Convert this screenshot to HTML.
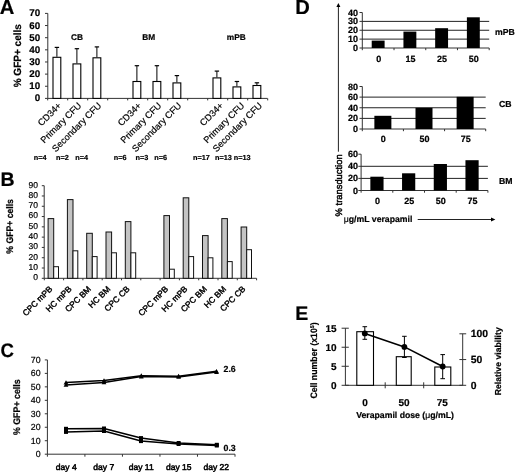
<!DOCTYPE html>
<html><head><meta charset="utf-8"><style>
html,body{margin:0;padding:0;background:#fff;}
svg{display:block;filter:blur(0.4px);}
text{font-family:"Liberation Sans", sans-serif;fill:#000;stroke:#000;stroke-width:0.2px;text-rendering:geometricPrecision;}
</style></head><body>
<svg width="520" height="474" viewBox="0 0 520 474">
<rect width="520" height="474" fill="#fff"/>
<text transform="translate(-0.20 14.10)" font-size="20.2" font-weight="bold" text-anchor="start">A</text>
<line x1="47.80" y1="13.40" x2="47.80" y2="98.40" stroke="#333" stroke-width="1"/>
<line x1="45.00" y1="98.40" x2="47.80" y2="98.40" stroke="#333" stroke-width="1"/>
<text transform="translate(40.20 101.40)" font-size="9.8" font-weight="bold" text-anchor="end">0</text>
<line x1="45.00" y1="86.26" x2="47.80" y2="86.26" stroke="#333" stroke-width="1"/>
<text transform="translate(40.20 89.26)" font-size="9.8" font-weight="bold" text-anchor="end">10</text>
<line x1="45.00" y1="74.11" x2="47.80" y2="74.11" stroke="#333" stroke-width="1"/>
<text transform="translate(40.20 77.11)" font-size="9.8" font-weight="bold" text-anchor="end">20</text>
<line x1="45.00" y1="61.97" x2="47.80" y2="61.97" stroke="#333" stroke-width="1"/>
<text transform="translate(40.20 64.97)" font-size="9.8" font-weight="bold" text-anchor="end">30</text>
<line x1="45.00" y1="49.83" x2="47.80" y2="49.83" stroke="#333" stroke-width="1"/>
<text transform="translate(40.20 52.83)" font-size="9.8" font-weight="bold" text-anchor="end">40</text>
<line x1="45.00" y1="37.69" x2="47.80" y2="37.69" stroke="#333" stroke-width="1"/>
<text transform="translate(40.20 40.69)" font-size="9.8" font-weight="bold" text-anchor="end">50</text>
<line x1="45.00" y1="25.54" x2="47.80" y2="25.54" stroke="#333" stroke-width="1"/>
<text transform="translate(40.20 28.54)" font-size="9.8" font-weight="bold" text-anchor="end">60</text>
<line x1="45.00" y1="13.40" x2="47.80" y2="13.40" stroke="#333" stroke-width="1"/>
<text transform="translate(40.20 16.40)" font-size="9.8" font-weight="bold" text-anchor="end">70</text>
<text transform="translate(21.20 55.70) rotate(-90) scale(0.955 1)" font-size="10.5" font-weight="bold" text-anchor="middle">% GFP+ cells</text>
<line x1="47.80" y1="98.40" x2="267.50" y2="98.40" stroke="#333" stroke-width="1"/>
<line x1="47.70" y1="98.40" x2="47.70" y2="100.40" stroke="#333" stroke-width="1"/>
<line x1="67.70" y1="98.40" x2="67.70" y2="100.40" stroke="#333" stroke-width="1"/>
<line x1="87.70" y1="98.40" x2="87.70" y2="100.40" stroke="#333" stroke-width="1"/>
<line x1="107.70" y1="98.40" x2="107.70" y2="100.40" stroke="#333" stroke-width="1"/>
<line x1="127.70" y1="98.40" x2="127.70" y2="100.40" stroke="#333" stroke-width="1"/>
<line x1="147.70" y1="98.40" x2="147.70" y2="100.40" stroke="#333" stroke-width="1"/>
<line x1="167.70" y1="98.40" x2="167.70" y2="100.40" stroke="#333" stroke-width="1"/>
<line x1="187.70" y1="98.40" x2="187.70" y2="100.40" stroke="#333" stroke-width="1"/>
<line x1="207.70" y1="98.40" x2="207.70" y2="100.40" stroke="#333" stroke-width="1"/>
<line x1="227.70" y1="98.40" x2="227.70" y2="100.40" stroke="#333" stroke-width="1"/>
<line x1="247.70" y1="98.40" x2="247.70" y2="100.40" stroke="#333" stroke-width="1"/>
<line x1="267.70" y1="98.40" x2="267.70" y2="100.40" stroke="#333" stroke-width="1"/>
<line x1="56.90" y1="47.40" x2="56.90" y2="56.80" stroke="#000" stroke-width="1"/>
<line x1="54.70" y1="47.40" x2="59.10" y2="47.40" stroke="#000" stroke-width="1.2"/>
<rect x="53.00" y="57.30" width="7.80" height="41.10" fill="#fff" stroke="#000" stroke-width="1.1"/>
<line x1="76.90" y1="48.70" x2="76.90" y2="63.40" stroke="#000" stroke-width="1"/>
<line x1="74.70" y1="48.70" x2="79.10" y2="48.70" stroke="#000" stroke-width="1.2"/>
<rect x="73.00" y="63.90" width="7.80" height="34.50" fill="#fff" stroke="#000" stroke-width="1.1"/>
<line x1="96.90" y1="46.90" x2="96.90" y2="57.30" stroke="#000" stroke-width="1"/>
<line x1="94.70" y1="46.90" x2="99.10" y2="46.90" stroke="#000" stroke-width="1.2"/>
<rect x="93.00" y="57.80" width="7.80" height="40.60" fill="#fff" stroke="#000" stroke-width="1.1"/>
<line x1="136.90" y1="65.70" x2="136.90" y2="81.00" stroke="#000" stroke-width="1"/>
<line x1="134.70" y1="65.70" x2="139.10" y2="65.70" stroke="#000" stroke-width="1.2"/>
<rect x="133.00" y="81.50" width="7.80" height="16.90" fill="#fff" stroke="#000" stroke-width="1.1"/>
<line x1="156.90" y1="65.70" x2="156.90" y2="81.00" stroke="#000" stroke-width="1"/>
<line x1="154.70" y1="65.70" x2="159.10" y2="65.70" stroke="#000" stroke-width="1.2"/>
<rect x="153.00" y="81.50" width="7.80" height="16.90" fill="#fff" stroke="#000" stroke-width="1.1"/>
<line x1="176.90" y1="75.60" x2="176.90" y2="82.40" stroke="#000" stroke-width="1"/>
<line x1="174.70" y1="75.60" x2="179.10" y2="75.60" stroke="#000" stroke-width="1.2"/>
<rect x="173.00" y="82.90" width="7.80" height="15.50" fill="#fff" stroke="#000" stroke-width="1.1"/>
<line x1="216.90" y1="71.10" x2="216.90" y2="77.40" stroke="#000" stroke-width="1"/>
<line x1="214.70" y1="71.10" x2="219.10" y2="71.10" stroke="#000" stroke-width="1.2"/>
<rect x="213.00" y="77.90" width="7.80" height="20.50" fill="#fff" stroke="#000" stroke-width="1.1"/>
<line x1="236.90" y1="81.50" x2="236.90" y2="86.40" stroke="#000" stroke-width="1"/>
<line x1="234.70" y1="81.50" x2="239.10" y2="81.50" stroke="#000" stroke-width="1.2"/>
<rect x="233.00" y="86.90" width="7.80" height="11.50" fill="#fff" stroke="#000" stroke-width="1.1"/>
<line x1="256.90" y1="82.80" x2="256.90" y2="85.00" stroke="#000" stroke-width="1"/>
<line x1="254.70" y1="82.80" x2="259.10" y2="82.80" stroke="#000" stroke-width="1.2"/>
<rect x="253.00" y="85.50" width="7.80" height="12.90" fill="#fff" stroke="#000" stroke-width="1.1"/>
<text transform="translate(77.00 39.70)" font-size="8.3" font-weight="bold" text-anchor="middle">CB</text>
<text transform="translate(148.60 39.70)" font-size="8.3" font-weight="bold" text-anchor="middle">BM</text>
<text transform="translate(236.30 40.00)" font-size="8.3" font-weight="bold" text-anchor="middle">mPB</text>
<text transform="translate(61.90 106.20) rotate(-45)" font-size="9.2" font-weight="normal" text-anchor="end">CD34+</text>
<text transform="translate(81.90 106.20) rotate(-45)" font-size="9.2" font-weight="normal" text-anchor="end">Primary CFU</text>
<text transform="translate(101.90 106.20) rotate(-45)" font-size="9.2" font-weight="normal" text-anchor="end">Secondary CFU</text>
<text transform="translate(141.90 106.20) rotate(-45)" font-size="9.2" font-weight="normal" text-anchor="end">CD34+</text>
<text transform="translate(161.90 106.20) rotate(-45)" font-size="9.2" font-weight="normal" text-anchor="end">Primary CFU</text>
<text transform="translate(181.90 106.20) rotate(-45)" font-size="9.2" font-weight="normal" text-anchor="end">Secondary CFU</text>
<text transform="translate(223.90 106.20) rotate(-45)" font-size="9.2" font-weight="normal" text-anchor="end">CD34+</text>
<text transform="translate(244.90 106.20) rotate(-45)" font-size="9.2" font-weight="normal" text-anchor="end">Primary CFU</text>
<text transform="translate(262.60 106.20) rotate(-45)" font-size="9.2" font-weight="normal" text-anchor="end">Secondary CFU</text>
<text transform="translate(33.80 159.70)" font-size="7.3" font-weight="bold" text-anchor="start">n=4</text>
<text transform="translate(56.00 159.70)" font-size="7.3" font-weight="bold" text-anchor="start">n=2</text>
<text transform="translate(75.20 159.70)" font-size="7.3" font-weight="bold" text-anchor="start">n=4</text>
<text transform="translate(113.70 159.70)" font-size="7.3" font-weight="bold" text-anchor="start">n=6</text>
<text transform="translate(135.60 159.70)" font-size="7.3" font-weight="bold" text-anchor="start">n=3</text>
<text transform="translate(154.20 159.70)" font-size="7.3" font-weight="bold" text-anchor="start">n=6</text>
<text transform="translate(193.00 159.70)" font-size="7.3" font-weight="bold" text-anchor="start">n=17</text>
<text transform="translate(215.00 159.70)" font-size="7.3" font-weight="bold" text-anchor="start">n=13</text>
<text transform="translate(233.80 159.70)" font-size="7.3" font-weight="bold" text-anchor="start">n=13</text>
<text transform="translate(0.50 185.60)" font-size="19.5" font-weight="bold" text-anchor="start">B</text>
<line x1="44.20" y1="185.69" x2="44.20" y2="278.30" stroke="#333" stroke-width="1"/>
<line x1="41.80" y1="278.30" x2="44.20" y2="278.30" stroke="#333" stroke-width="1"/>
<text transform="translate(38.00 280.20)" font-size="8.5" font-weight="normal" text-anchor="end">0</text>
<line x1="41.80" y1="268.01" x2="44.20" y2="268.01" stroke="#333" stroke-width="1"/>
<text transform="translate(38.00 269.91)" font-size="8.5" font-weight="normal" text-anchor="end">10</text>
<line x1="41.80" y1="257.72" x2="44.20" y2="257.72" stroke="#333" stroke-width="1"/>
<text transform="translate(38.00 259.62)" font-size="8.5" font-weight="normal" text-anchor="end">20</text>
<line x1="41.80" y1="247.43" x2="44.20" y2="247.43" stroke="#333" stroke-width="1"/>
<text transform="translate(38.00 249.33)" font-size="8.5" font-weight="normal" text-anchor="end">30</text>
<line x1="41.80" y1="237.14" x2="44.20" y2="237.14" stroke="#333" stroke-width="1"/>
<text transform="translate(38.00 239.04)" font-size="8.5" font-weight="normal" text-anchor="end">40</text>
<line x1="41.80" y1="226.85" x2="44.20" y2="226.85" stroke="#333" stroke-width="1"/>
<text transform="translate(38.00 228.75)" font-size="8.5" font-weight="normal" text-anchor="end">50</text>
<line x1="41.80" y1="216.56" x2="44.20" y2="216.56" stroke="#333" stroke-width="1"/>
<text transform="translate(38.00 218.46)" font-size="8.5" font-weight="normal" text-anchor="end">60</text>
<line x1="41.80" y1="206.27" x2="44.20" y2="206.27" stroke="#333" stroke-width="1"/>
<text transform="translate(38.00 208.17)" font-size="8.5" font-weight="normal" text-anchor="end">70</text>
<line x1="41.80" y1="195.98" x2="44.20" y2="195.98" stroke="#333" stroke-width="1"/>
<text transform="translate(38.00 197.88)" font-size="8.5" font-weight="normal" text-anchor="end">80</text>
<line x1="41.80" y1="185.69" x2="44.20" y2="185.69" stroke="#333" stroke-width="1"/>
<text transform="translate(38.00 187.59)" font-size="8.5" font-weight="normal" text-anchor="end">90</text>
<text transform="translate(13.40 226.40) rotate(-90) scale(0.9 1)" font-size="9.6" font-weight="bold" text-anchor="middle">% GFP+ cells</text>
<line x1="44.20" y1="278.30" x2="256.50" y2="278.30" stroke="#333" stroke-width="1"/>
<line x1="44.30" y1="278.30" x2="44.30" y2="280.30" stroke="#333" stroke-width="1"/>
<line x1="63.60" y1="278.30" x2="63.60" y2="280.30" stroke="#333" stroke-width="1"/>
<line x1="82.90" y1="278.30" x2="82.90" y2="280.30" stroke="#333" stroke-width="1"/>
<line x1="102.20" y1="278.30" x2="102.20" y2="280.30" stroke="#333" stroke-width="1"/>
<line x1="121.50" y1="278.30" x2="121.50" y2="280.30" stroke="#333" stroke-width="1"/>
<line x1="140.80" y1="278.30" x2="140.80" y2="280.30" stroke="#333" stroke-width="1"/>
<line x1="160.10" y1="278.30" x2="160.10" y2="280.30" stroke="#333" stroke-width="1"/>
<line x1="179.40" y1="278.30" x2="179.40" y2="280.30" stroke="#333" stroke-width="1"/>
<line x1="198.70" y1="278.30" x2="198.70" y2="280.30" stroke="#333" stroke-width="1"/>
<line x1="218.00" y1="278.30" x2="218.00" y2="280.30" stroke="#333" stroke-width="1"/>
<line x1="237.30" y1="278.30" x2="237.30" y2="280.30" stroke="#333" stroke-width="1"/>
<line x1="256.60" y1="278.30" x2="256.60" y2="280.30" stroke="#333" stroke-width="1"/>
<rect x="48.10" y="218.60" width="5.60" height="59.70" fill="#c4c4c4" stroke="#111" stroke-width="1"/>
<rect x="53.70" y="266.70" width="4.80" height="11.60" fill="#fff" stroke="#111" stroke-width="1"/>
<text transform="translate(52.95 289.50) rotate(-45)" font-size="8.4" font-weight="normal" text-anchor="end" style="stroke-width:0.4px">CPC mPB</text>
<rect x="67.40" y="199.60" width="5.60" height="78.70" fill="#c4c4c4" stroke="#111" stroke-width="1"/>
<rect x="73.00" y="250.80" width="4.80" height="27.50" fill="#fff" stroke="#111" stroke-width="1"/>
<text transform="translate(72.25 289.50) rotate(-45)" font-size="8.4" font-weight="normal" text-anchor="end" style="stroke-width:0.4px">HC mPB</text>
<rect x="86.70" y="233.30" width="5.60" height="45.00" fill="#c4c4c4" stroke="#111" stroke-width="1"/>
<rect x="92.30" y="256.60" width="4.80" height="21.70" fill="#fff" stroke="#111" stroke-width="1"/>
<text transform="translate(91.55 289.50) rotate(-45)" font-size="8.4" font-weight="normal" text-anchor="end" style="stroke-width:0.4px">CPC BM</text>
<rect x="106.00" y="232.00" width="5.60" height="46.30" fill="#c4c4c4" stroke="#111" stroke-width="1"/>
<rect x="111.60" y="252.80" width="4.80" height="25.50" fill="#fff" stroke="#111" stroke-width="1"/>
<text transform="translate(110.85 289.50) rotate(-45)" font-size="8.4" font-weight="normal" text-anchor="end" style="stroke-width:0.4px">HC BM</text>
<rect x="125.30" y="221.60" width="5.60" height="56.70" fill="#c4c4c4" stroke="#111" stroke-width="1"/>
<rect x="130.90" y="252.80" width="4.80" height="25.50" fill="#fff" stroke="#111" stroke-width="1"/>
<text transform="translate(130.15 289.50) rotate(-45)" font-size="8.4" font-weight="normal" text-anchor="end" style="stroke-width:0.4px">CPC CB</text>
<rect x="163.90" y="215.60" width="5.60" height="62.70" fill="#c4c4c4" stroke="#111" stroke-width="1"/>
<rect x="169.50" y="269.20" width="4.80" height="9.10" fill="#fff" stroke="#111" stroke-width="1"/>
<text transform="translate(168.75 289.50) rotate(-45)" font-size="8.4" font-weight="normal" text-anchor="end" style="stroke-width:0.4px">CPC mPB</text>
<rect x="183.20" y="197.80" width="5.60" height="80.50" fill="#c4c4c4" stroke="#111" stroke-width="1"/>
<rect x="188.80" y="256.60" width="4.80" height="21.70" fill="#fff" stroke="#111" stroke-width="1"/>
<text transform="translate(188.05 289.50) rotate(-45)" font-size="8.4" font-weight="normal" text-anchor="end" style="stroke-width:0.4px">HC mPB</text>
<rect x="202.50" y="235.60" width="5.60" height="42.70" fill="#c4c4c4" stroke="#111" stroke-width="1"/>
<rect x="208.10" y="257.80" width="4.80" height="20.50" fill="#fff" stroke="#111" stroke-width="1"/>
<text transform="translate(207.35 289.50) rotate(-45)" font-size="8.4" font-weight="normal" text-anchor="end" style="stroke-width:0.4px">CPC BM</text>
<rect x="221.80" y="218.60" width="5.60" height="59.70" fill="#c4c4c4" stroke="#111" stroke-width="1"/>
<rect x="227.40" y="261.60" width="4.80" height="16.70" fill="#fff" stroke="#111" stroke-width="1"/>
<text transform="translate(226.65 289.50) rotate(-45)" font-size="8.4" font-weight="normal" text-anchor="end" style="stroke-width:0.4px">HC BM</text>
<rect x="241.10" y="227.00" width="5.60" height="51.30" fill="#c4c4c4" stroke="#111" stroke-width="1"/>
<rect x="246.70" y="249.70" width="4.80" height="28.60" fill="#fff" stroke="#111" stroke-width="1"/>
<text transform="translate(245.95 289.50) rotate(-45)" font-size="8.4" font-weight="normal" text-anchor="end" style="stroke-width:0.4px">CPC CB</text>
<text transform="translate(0.60 356.60) scale(0.95 1)" font-size="19.5" font-weight="bold" text-anchor="start">C</text>
<line x1="47.40" y1="359.91" x2="47.40" y2="454.20" stroke="#333" stroke-width="1"/>
<line x1="44.80" y1="454.20" x2="47.40" y2="454.20" stroke="#333" stroke-width="1"/>
<text transform="translate(40.60 457.30)" font-size="8.8" font-weight="normal" text-anchor="end">0</text>
<line x1="44.80" y1="440.73" x2="47.40" y2="440.73" stroke="#333" stroke-width="1"/>
<text transform="translate(40.60 443.83)" font-size="8.8" font-weight="normal" text-anchor="end">10</text>
<line x1="44.80" y1="427.26" x2="47.40" y2="427.26" stroke="#333" stroke-width="1"/>
<text transform="translate(40.60 430.36)" font-size="8.8" font-weight="normal" text-anchor="end">20</text>
<line x1="44.80" y1="413.79" x2="47.40" y2="413.79" stroke="#333" stroke-width="1"/>
<text transform="translate(40.60 416.89)" font-size="8.8" font-weight="normal" text-anchor="end">30</text>
<line x1="44.80" y1="400.32" x2="47.40" y2="400.32" stroke="#333" stroke-width="1"/>
<text transform="translate(40.60 403.42)" font-size="8.8" font-weight="normal" text-anchor="end">40</text>
<line x1="44.80" y1="386.85" x2="47.40" y2="386.85" stroke="#333" stroke-width="1"/>
<text transform="translate(40.60 389.95)" font-size="8.8" font-weight="normal" text-anchor="end">50</text>
<line x1="44.80" y1="373.38" x2="47.40" y2="373.38" stroke="#333" stroke-width="1"/>
<text transform="translate(40.60 376.48)" font-size="8.8" font-weight="normal" text-anchor="end">60</text>
<line x1="44.80" y1="359.91" x2="47.40" y2="359.91" stroke="#333" stroke-width="1"/>
<text transform="translate(40.60 363.01)" font-size="8.8" font-weight="normal" text-anchor="end">70</text>
<text transform="translate(20.40 407.20) rotate(-90) scale(0.92 1)" font-size="9.6" font-weight="bold" text-anchor="middle">% GFP+ cells</text>
<line x1="47.40" y1="454.20" x2="235.00" y2="454.20" stroke="#333" stroke-width="1"/>
<line x1="47.40" y1="454.20" x2="47.40" y2="456.70" stroke="#333" stroke-width="1"/>
<line x1="84.92" y1="454.20" x2="84.92" y2="456.70" stroke="#333" stroke-width="1"/>
<line x1="122.44" y1="454.20" x2="122.44" y2="456.70" stroke="#333" stroke-width="1"/>
<line x1="159.96" y1="454.20" x2="159.96" y2="456.70" stroke="#333" stroke-width="1"/>
<line x1="197.48" y1="454.20" x2="197.48" y2="456.70" stroke="#333" stroke-width="1"/>
<line x1="235.00" y1="454.20" x2="235.00" y2="456.70" stroke="#333" stroke-width="1"/>
<text transform="translate(66.20 470.20)" font-size="8.5" font-weight="normal" text-anchor="middle" style="stroke-width:0.5px">day 4</text>
<text transform="translate(103.70 470.20)" font-size="8.5" font-weight="normal" text-anchor="middle" style="stroke-width:0.5px">day 7</text>
<text transform="translate(141.20 470.20)" font-size="8.5" font-weight="normal" text-anchor="middle" style="stroke-width:0.5px">day 11</text>
<text transform="translate(178.70 470.20)" font-size="8.5" font-weight="normal" text-anchor="middle" style="stroke-width:0.5px">day 15</text>
<text transform="translate(216.20 470.20)" font-size="8.5" font-weight="normal" text-anchor="middle" style="stroke-width:0.5px">day 22</text>
<polyline points="66.00,382.60 104.00,380.60 141.30,375.70 178.60,376.20 216.50,371.30" fill="none" stroke="#000" stroke-width="1.55" stroke-linejoin="round"/>
<polyline points="66.00,384.90 104.00,382.40 141.30,376.60 178.60,376.90 216.50,372.00" fill="none" stroke="#000" stroke-width="1.55" stroke-linejoin="round"/>
<polyline points="66.00,428.80 104.00,428.50 141.00,438.10 178.60,443.00 216.80,444.80" fill="none" stroke="#000" stroke-width="1.55" stroke-linejoin="round"/>
<polyline points="66.00,431.90 104.00,431.00 141.00,441.10 178.60,444.00 216.80,445.50" fill="none" stroke="#000" stroke-width="1.55" stroke-linejoin="round"/>
<polygon points="63.60,384.52 68.40,384.52 66.00,380.20" fill="#000" stroke="none" stroke-width="0"/>
<polygon points="101.60,382.52 106.40,382.52 104.00,378.20" fill="#000" stroke="none" stroke-width="0"/>
<polygon points="138.90,377.62 143.70,377.62 141.30,373.30" fill="#000" stroke="none" stroke-width="0"/>
<polygon points="176.20,378.12 181.00,378.12 178.60,373.80" fill="#000" stroke="none" stroke-width="0"/>
<polygon points="214.10,373.22 218.90,373.22 216.50,368.90" fill="#000" stroke="none" stroke-width="0"/>
<polygon points="63.60,386.82 68.40,386.82 66.00,382.50" fill="#000" stroke="none" stroke-width="0"/>
<polygon points="101.60,384.32 106.40,384.32 104.00,380.00" fill="#000" stroke="none" stroke-width="0"/>
<polygon points="138.90,378.52 143.70,378.52 141.30,374.20" fill="#000" stroke="none" stroke-width="0"/>
<polygon points="176.20,378.82 181.00,378.82 178.60,374.50" fill="#000" stroke="none" stroke-width="0"/>
<polygon points="214.10,373.92 218.90,373.92 216.50,369.60" fill="#000" stroke="none" stroke-width="0"/>
<rect x="64.00" y="426.80" width="4.00" height="4.00" fill="#000"/>
<rect x="102.00" y="426.50" width="4.00" height="4.00" fill="#000"/>
<rect x="139.00" y="436.10" width="4.00" height="4.00" fill="#000"/>
<rect x="176.60" y="441.00" width="4.00" height="4.00" fill="#000"/>
<rect x="214.80" y="442.80" width="4.00" height="4.00" fill="#000"/>
<rect x="64.00" y="429.90" width="4.00" height="4.00" fill="#000"/>
<rect x="102.00" y="429.00" width="4.00" height="4.00" fill="#000"/>
<rect x="139.00" y="439.10" width="4.00" height="4.00" fill="#000"/>
<rect x="176.60" y="442.00" width="4.00" height="4.00" fill="#000"/>
<rect x="214.80" y="443.50" width="4.00" height="4.00" fill="#000"/>
<text transform="translate(223.50 372.00)" font-size="8.8" font-weight="bold" text-anchor="start">2.6</text>
<text transform="translate(223.50 451.20)" font-size="8.8" font-weight="bold" text-anchor="start">0.3</text>
<text transform="translate(295.20 14.10)" font-size="20.2" font-weight="bold" text-anchor="start">D</text>
<line x1="338.40" y1="6.00" x2="338.40" y2="151.70" stroke="#222" stroke-width="1"/>
<polygon points="336.40,7.00 340.40,7.00 338.40,3.00" fill="#000" stroke="none" stroke-width="0"/>
<text transform="translate(341.70 185.40) rotate(-90)" font-size="9.4" font-weight="normal" text-anchor="middle" style="stroke-width:0.45px">% transduction</text>
<text transform="translate(343.80 222.30)" font-size="8.7" font-weight="bold" text-anchor="start"><tspan font-weight="normal">μ</tspan>g/mL verapamil</text>
<line x1="417.70" y1="219.50" x2="492.00" y2="219.50" stroke="#222" stroke-width="1"/>
<polygon points="491.00,217.60 491.00,221.40 495.40,219.50" fill="#000" stroke="none" stroke-width="0"/>
<line x1="362.30" y1="12.50" x2="362.30" y2="48.00" stroke="#333" stroke-width="1"/>
<line x1="359.50" y1="48.00" x2="362.30" y2="48.00" stroke="#333" stroke-width="1"/>
<text transform="translate(357.90 51.00)" font-size="9" font-weight="bold" text-anchor="end">0</text>
<line x1="359.50" y1="39.12" x2="362.30" y2="39.12" stroke="#333" stroke-width="1"/>
<text transform="translate(357.90 42.12)" font-size="9" font-weight="bold" text-anchor="end">10</text>
<line x1="362.30" y1="39.12" x2="489.20" y2="39.12" stroke="#222" stroke-width="1"/>
<line x1="359.50" y1="30.25" x2="362.30" y2="30.25" stroke="#333" stroke-width="1"/>
<text transform="translate(357.90 33.25)" font-size="9" font-weight="bold" text-anchor="end">20</text>
<line x1="362.30" y1="30.25" x2="489.20" y2="30.25" stroke="#222" stroke-width="1"/>
<line x1="359.50" y1="21.38" x2="362.30" y2="21.38" stroke="#333" stroke-width="1"/>
<text transform="translate(357.90 24.38)" font-size="9" font-weight="bold" text-anchor="end">30</text>
<line x1="362.30" y1="21.38" x2="489.20" y2="21.38" stroke="#222" stroke-width="1"/>
<line x1="359.50" y1="12.50" x2="362.30" y2="12.50" stroke="#333" stroke-width="1"/>
<text transform="translate(357.90 15.50)" font-size="9" font-weight="bold" text-anchor="end">40</text>
<line x1="362.30" y1="48.00" x2="489.20" y2="48.00" stroke="#333" stroke-width="1"/>
<line x1="362.30" y1="48.00" x2="362.30" y2="50.20" stroke="#333" stroke-width="1"/>
<line x1="394.02" y1="48.00" x2="394.02" y2="50.20" stroke="#333" stroke-width="1"/>
<line x1="425.75" y1="48.00" x2="425.75" y2="50.20" stroke="#333" stroke-width="1"/>
<line x1="457.48" y1="48.00" x2="457.48" y2="50.20" stroke="#333" stroke-width="1"/>
<line x1="489.20" y1="48.00" x2="489.20" y2="50.20" stroke="#333" stroke-width="1"/>
<rect x="371.71" y="40.60" width="12.90" height="7.40" fill="#000"/>
<text transform="translate(378.66 61.50)" font-size="9" font-weight="bold" text-anchor="middle">0</text>
<rect x="403.44" y="31.60" width="12.90" height="16.40" fill="#000"/>
<text transform="translate(410.39 61.50)" font-size="9" font-weight="bold" text-anchor="middle">15</text>
<rect x="435.16" y="28.20" width="12.90" height="19.80" fill="#000"/>
<text transform="translate(442.11 61.50)" font-size="9" font-weight="bold" text-anchor="middle">25</text>
<rect x="466.89" y="17.30" width="12.90" height="30.70" fill="#000"/>
<text transform="translate(473.84 61.50)" font-size="9" font-weight="bold" text-anchor="middle">50</text>
<text transform="translate(495.00 35.10)" font-size="8.7" font-weight="bold" text-anchor="start">mPB</text>
<line x1="362.30" y1="86.50" x2="362.30" y2="129.00" stroke="#333" stroke-width="1"/>
<line x1="359.50" y1="129.00" x2="362.30" y2="129.00" stroke="#333" stroke-width="1"/>
<text transform="translate(357.90 132.00)" font-size="9" font-weight="bold" text-anchor="end">0</text>
<line x1="359.50" y1="118.38" x2="362.30" y2="118.38" stroke="#333" stroke-width="1"/>
<text transform="translate(357.90 121.38)" font-size="9" font-weight="bold" text-anchor="end">20</text>
<line x1="362.30" y1="118.38" x2="485.70" y2="118.38" stroke="#222" stroke-width="1"/>
<line x1="359.50" y1="107.75" x2="362.30" y2="107.75" stroke="#333" stroke-width="1"/>
<text transform="translate(357.90 110.75)" font-size="9" font-weight="bold" text-anchor="end">40</text>
<line x1="362.30" y1="107.75" x2="485.70" y2="107.75" stroke="#222" stroke-width="1"/>
<line x1="359.50" y1="97.12" x2="362.30" y2="97.12" stroke="#333" stroke-width="1"/>
<text transform="translate(357.90 100.12)" font-size="9" font-weight="bold" text-anchor="end">60</text>
<line x1="362.30" y1="97.12" x2="485.70" y2="97.12" stroke="#222" stroke-width="1"/>
<line x1="359.50" y1="86.50" x2="362.30" y2="86.50" stroke="#333" stroke-width="1"/>
<text transform="translate(357.90 89.50)" font-size="9" font-weight="bold" text-anchor="end">80</text>
<line x1="362.30" y1="129.00" x2="485.70" y2="129.00" stroke="#333" stroke-width="1"/>
<line x1="362.30" y1="129.00" x2="362.30" y2="131.20" stroke="#333" stroke-width="1"/>
<line x1="403.43" y1="129.00" x2="403.43" y2="131.20" stroke="#333" stroke-width="1"/>
<line x1="444.57" y1="129.00" x2="444.57" y2="131.20" stroke="#333" stroke-width="1"/>
<line x1="485.70" y1="129.00" x2="485.70" y2="131.20" stroke="#333" stroke-width="1"/>
<rect x="374.37" y="115.80" width="17.00" height="13.20" fill="#000"/>
<text transform="translate(383.37 141.90)" font-size="9" font-weight="bold" text-anchor="middle">0</text>
<rect x="415.50" y="107.80" width="17.00" height="21.20" fill="#000"/>
<text transform="translate(424.50 141.90)" font-size="9" font-weight="bold" text-anchor="middle">50</text>
<rect x="456.63" y="96.80" width="17.00" height="32.20" fill="#000"/>
<text transform="translate(465.63 141.90)" font-size="9" font-weight="bold" text-anchor="middle">75</text>
<text transform="translate(498.90 107.20)" font-size="8.7" font-weight="bold" text-anchor="start">CB</text>
<line x1="361.10" y1="154.20" x2="361.10" y2="190.50" stroke="#333" stroke-width="1"/>
<line x1="358.30" y1="190.50" x2="361.10" y2="190.50" stroke="#333" stroke-width="1"/>
<text transform="translate(357.90 193.50)" font-size="9" font-weight="bold" text-anchor="end">0</text>
<line x1="358.30" y1="178.40" x2="361.10" y2="178.40" stroke="#333" stroke-width="1"/>
<text transform="translate(357.90 181.40)" font-size="9" font-weight="bold" text-anchor="end">20</text>
<line x1="361.10" y1="178.40" x2="487.90" y2="178.40" stroke="#222" stroke-width="1"/>
<line x1="358.30" y1="166.30" x2="361.10" y2="166.30" stroke="#333" stroke-width="1"/>
<text transform="translate(357.90 169.30)" font-size="9" font-weight="bold" text-anchor="end">40</text>
<line x1="361.10" y1="166.30" x2="487.90" y2="166.30" stroke="#222" stroke-width="1"/>
<line x1="358.30" y1="154.20" x2="361.10" y2="154.20" stroke="#333" stroke-width="1"/>
<text transform="translate(357.90 157.20)" font-size="9" font-weight="bold" text-anchor="end">60</text>
<line x1="361.10" y1="190.50" x2="487.90" y2="190.50" stroke="#333" stroke-width="1"/>
<line x1="361.10" y1="190.50" x2="361.10" y2="192.70" stroke="#333" stroke-width="1"/>
<line x1="392.80" y1="190.50" x2="392.80" y2="192.70" stroke="#333" stroke-width="1"/>
<line x1="424.50" y1="190.50" x2="424.50" y2="192.70" stroke="#333" stroke-width="1"/>
<line x1="456.20" y1="190.50" x2="456.20" y2="192.70" stroke="#333" stroke-width="1"/>
<line x1="487.90" y1="190.50" x2="487.90" y2="192.70" stroke="#333" stroke-width="1"/>
<rect x="370.35" y="176.70" width="13.20" height="13.80" fill="#000"/>
<text transform="translate(377.45 203.60)" font-size="9" font-weight="bold" text-anchor="middle">0</text>
<rect x="402.05" y="173.30" width="13.20" height="17.20" fill="#000"/>
<text transform="translate(409.15 203.60)" font-size="9" font-weight="bold" text-anchor="middle">25</text>
<rect x="433.75" y="164.00" width="13.20" height="26.50" fill="#000"/>
<text transform="translate(440.85 203.60)" font-size="9" font-weight="bold" text-anchor="middle">50</text>
<rect x="465.45" y="160.20" width="13.20" height="30.30" fill="#000"/>
<text transform="translate(472.55 203.60)" font-size="9" font-weight="bold" text-anchor="middle">75</text>
<text transform="translate(498.90 183.70)" font-size="8.7" font-weight="bold" text-anchor="start">BM</text>
<text transform="translate(295.30 319.80)" font-size="19.5" font-weight="bold" text-anchor="start">E</text>
<line x1="345.40" y1="328.21" x2="345.40" y2="385.30" stroke="#333" stroke-width="1"/>
<line x1="341.60" y1="385.30" x2="348.80" y2="385.30" stroke="#333" stroke-width="1"/>
<text transform="translate(336.50 388.80)" font-size="10" font-weight="bold" text-anchor="end">0</text>
<line x1="341.60" y1="366.27" x2="348.80" y2="366.27" stroke="#333" stroke-width="1"/>
<text transform="translate(336.50 369.77)" font-size="10" font-weight="bold" text-anchor="end">5</text>
<line x1="341.60" y1="347.24" x2="348.80" y2="347.24" stroke="#333" stroke-width="1"/>
<text transform="translate(336.50 350.74)" font-size="10" font-weight="bold" text-anchor="end">10</text>
<line x1="341.60" y1="328.21" x2="348.80" y2="328.21" stroke="#333" stroke-width="1"/>
<text transform="translate(336.50 331.71)" font-size="10" font-weight="bold" text-anchor="end">15</text>
<text transform="translate(317.20 360.50) rotate(-90) scale(0.94 1)" font-size="9.3" font-weight="bold" text-anchor="middle">Cell number (x10<tspan font-size="5.5" dy="-3.5">5</tspan><tspan dy="3.5">)</tspan></text>
<line x1="462.70" y1="333.80" x2="462.70" y2="385.30" stroke="#333" stroke-width="1"/>
<line x1="459.40" y1="385.30" x2="466.20" y2="385.30" stroke="#333" stroke-width="1"/>
<text transform="translate(470.80 388.90)" font-size="10.4" font-weight="bold" text-anchor="start">0</text>
<line x1="459.40" y1="359.55" x2="466.20" y2="359.55" stroke="#333" stroke-width="1"/>
<text transform="translate(470.80 363.15)" font-size="10.4" font-weight="bold" text-anchor="start">50</text>
<line x1="459.40" y1="333.80" x2="466.20" y2="333.80" stroke="#333" stroke-width="1"/>
<text transform="translate(470.80 337.40)" font-size="10.4" font-weight="bold" text-anchor="start">100</text>
<text transform="translate(501.20 361.30) rotate(-90)" font-size="8.7" font-weight="bold" text-anchor="middle">Relative viability</text>
<line x1="345.40" y1="385.30" x2="462.70" y2="385.30" stroke="#333" stroke-width="1"/>
<line x1="385.20" y1="382.30" x2="385.20" y2="388.30" stroke="#333" stroke-width="1"/>
<line x1="423.70" y1="382.30" x2="423.70" y2="388.30" stroke="#333" stroke-width="1"/>
<rect x="356.80" y="331.70" width="16.70" height="53.60" fill="#fff" stroke="#000" stroke-width="1.1"/>
<rect x="396.30" y="356.70" width="14.90" height="28.60" fill="#fff" stroke="#000" stroke-width="1.1"/>
<rect x="434.80" y="367.00" width="16.00" height="18.30" fill="#fff" stroke="#000" stroke-width="1.1"/>
<line x1="364.80" y1="326.70" x2="364.80" y2="339.30" stroke="#000" stroke-width="1"/>
<line x1="362.50" y1="326.70" x2="367.10" y2="326.70" stroke="#000" stroke-width="1"/>
<line x1="362.50" y1="339.30" x2="367.10" y2="339.30" stroke="#000" stroke-width="1"/>
<line x1="404.40" y1="336.30" x2="404.40" y2="357.50" stroke="#000" stroke-width="1"/>
<line x1="402.10" y1="336.30" x2="406.70" y2="336.30" stroke="#000" stroke-width="1"/>
<line x1="402.10" y1="357.50" x2="406.70" y2="357.50" stroke="#000" stroke-width="1"/>
<line x1="442.70" y1="354.60" x2="442.70" y2="378.70" stroke="#000" stroke-width="1"/>
<line x1="440.40" y1="354.60" x2="445.00" y2="354.60" stroke="#000" stroke-width="1"/>
<line x1="440.40" y1="378.70" x2="445.00" y2="378.70" stroke="#000" stroke-width="1"/>
<polyline points="364.80,333.40 404.40,346.90 442.70,366.50" fill="none" stroke="#000" stroke-width="1.6" stroke-linejoin="round"/>
<circle cx="364.8" cy="333.4" r="2.9" fill="#000"/>
<circle cx="404.4" cy="346.9" r="2.9" fill="#000"/>
<circle cx="442.7" cy="366.5" r="2.9" fill="#000"/>
<text transform="translate(365.00 405.70)" font-size="10" font-weight="bold" text-anchor="middle">0</text>
<text transform="translate(404.10 405.70)" font-size="10" font-weight="bold" text-anchor="middle">50</text>
<text transform="translate(442.30 405.70)" font-size="10" font-weight="bold" text-anchor="middle">75</text>
<text transform="translate(356.20 418.30)" font-size="8.7" font-weight="bold" text-anchor="start">Verapamil dose (<tspan font-weight="normal">μ</tspan>g/mL)</text>
</svg>
</body></html>
